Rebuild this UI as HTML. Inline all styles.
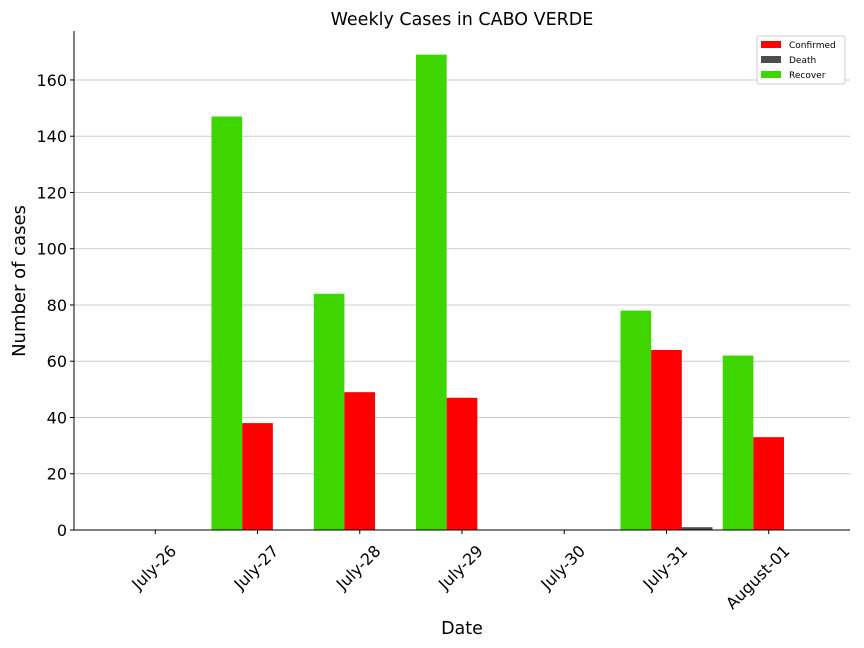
<!DOCTYPE html>
<html><head><meta charset="utf-8"><style>
body{margin:0;background:#fff;}
svg{display:block;font-family:"DejaVu Sans","Liberation Sans",sans-serif;}
</style></head><body>
<svg id="chart" width="864" height="648">
<text x="462" y="25" text-anchor="middle" font-size="17.5" fill="#000">Weekly Cases in CABO VERDE</text>
<g id="grid"></g>
<g id="bars"></g>
<g id="axes"></g>
<text x="462" y="634" text-anchor="middle" font-size="17.5">Date</text>
<text transform="translate(25,281) rotate(-90)" text-anchor="middle" font-size="18">Number of cases</text>
<g>
<rect x="757" y="36" width="88" height="48" fill="#fff" stroke="#ccc" rx="2"/>
<g><rect x="761" y="41" width="20" height="7" fill="#ff0000"/><text x="789" y="48" font-size="9">Confirmed</text></g>
<g><rect x="761" y="56" width="20" height="7" fill="#4d4d4d"/><text x="789" y="63" font-size="9">Death</text></g>
<g><rect x="761" y="71" width="20" height="7" fill="#3dd600"/><text x="789" y="78" font-size="9">Recover</text></g>
</g>
</svg>
<script>
const categories=["July-26","July-27","July-28","July-29","July-30","July-31","August-01"];
const recover=[0,147,84,169,0,78,62];
const confirmed=[0,38,49,47,0,64,33];
const death=[0,0,0,0,0,1,0];
const yTicks=[0,20,40,60,80,100,120,140,160];
const NS="http://www.w3.org/2000/svg";
const L=74,R=850,T=31,B=530;
const xmin=-0.795,xmax=6.795,ymax=177.4;
function xs(v){return L+(v-xmin)/(xmax-xmin)*(R-L);}
function ys(v){return B-v/ymax*(B-T);}
function mk(tag,attrs,parent){const e=document.createElementNS(NS,tag);for(const k in attrs)e.setAttribute(k,attrs[k]);parent.appendChild(e);return e;}
const grid=document.getElementById('grid'),bars=document.getElementById('bars'),axes=document.getElementById('axes');
yTicks.forEach(t=>{
  const y=ys(t);
  if(t>0){const g=mk('line',{x1:L,x2:R,y1:y,y2:y,stroke:'#cccccc','stroke-width':1},grid);
  
  }
  mk('line',{x1:L-4,x2:L,y1:y,y2:y,stroke:'#000'},axes);
  const tx=mk('text',{x:L-7,y:y+6,'text-anchor':'end','font-size':16},axes);
  tx.textContent=t;
  
  
});
const w=0.3;
const series=[[recover,-w,'#3dd600','recover'],[confirmed,0,'#ff0000','confirmed'],[death,w,'#4d4d4d','death']];
categories.forEach((c,i)=>{
  series.forEach(s=>{
    const v=s[0][i];
    const x0=xs(i+s[1]-w/2),x1=xs(i+s[1]+w/2);
    const r=mk('rect',{x:x0,y:ys(v),width:x1-x0,height:B-ys(v),fill:s[2]},bars);
    
    
  });
  const x=xs(i);
  mk('line',{x1:x,x2:x,y1:B,y2:B+4,stroke:'#000'},axes);
  const tx=mk('text',{'text-anchor':'end','font-size':16,transform:`translate(${x+22},${B+22}) rotate(-45)`},axes);
  tx.textContent=c;
  
  
});
const ax=mk('line',{x1:L,x2:L,y1:T,y2:B,stroke:'#000'},axes);


const bx=mk('line',{x1:L,x2:R,y1:B,y2:B,stroke:'#000'},axes);


</script>
</body></html>
